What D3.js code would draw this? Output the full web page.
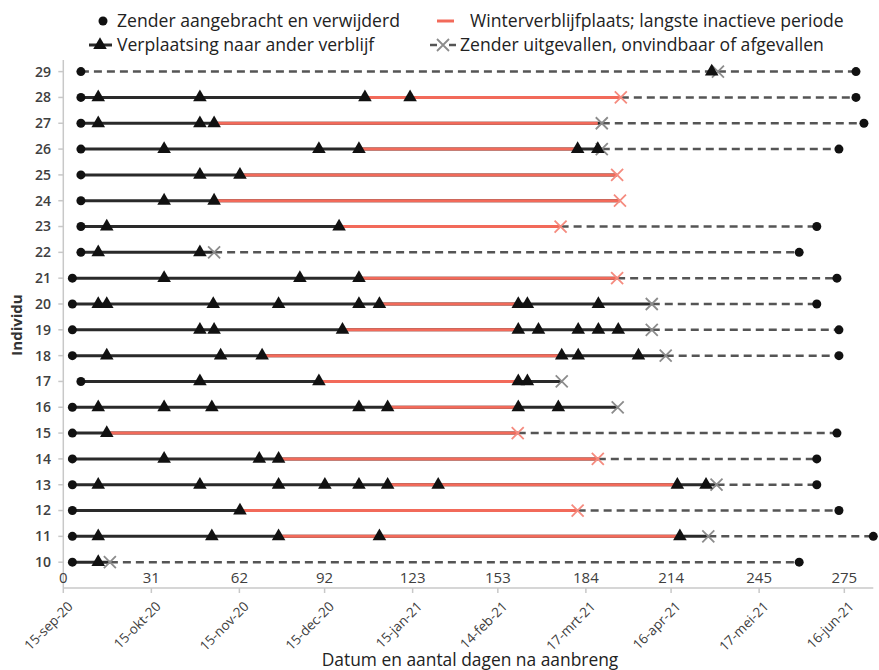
<!DOCTYPE html>
<html>
<head>
<meta charset="utf-8">
<script src="https://cdn.jsdelivr.net/npm/d3@7"></script>
<style>
  body { margin: 0; background: #fff; }
  text { font-family: "Open Sans", sans-serif; }
</style>
</head>
<body>
<div id="chart"></div>
<script>
const w = 879, h = 670;

// one entry per individual, top row (29) first
const individu = [29, 28, 27, 26, 25, 24, 23, 22, 21, 20, 19, 18, 17, 16, 15, 14, 13, 12, 11, 10];
const startDay = [6.2, 6.2, 6.2, 6.2, 6.2, 6.2, 6.2, 6.2, 3.2, 3.2, 3.2, 3.2, 6.2, 3.2, 3.2, 3.2, 3.2, 3.2, 3.2, 3.2];
const moveDays = [
  [228.3],
  [12.3, 48.1, 106.2, 122.1],
  [12.3, 48.1, 53.1],
  [35.5, 90, 104.1, 181.1, 188.2],
  [48.1, 62.2],
  [35.5, 53.1],
  [15.3, 97.1],
  [12.3, 48.1],
  [35.5, 83.3, 104.1],
  [12.3, 15.3, 52.8, 75.8, 104.1, 111.3, 160.2, 163.4, 188.4],
  [48.1, 53.1, 98.3, 160.2, 167.3, 181.3, 188.4, 195.4],
  [15.3, 55.4, 70, 175.5, 181.3, 202.5],
  [48.1, 90, 160.2, 163.4],
  [12.3, 35.5, 52.3, 104.1, 114.2, 160.2, 174.3],
  [15.3],
  [35.5, 69, 75.8],
  [12.3, 48.1, 75.8, 92.1, 104.1, 114.2, 132, 216.2, 226.3],
  [62.2],
  [12.3, 52.3, 75.8, 111.3, 217.1],
  [12.3]
];
const winterStart = [null, 106.2, 53.1, 104.1, 62.2, 53.1, 97.1, null, 104.1, 111.3, 98.3, 70, 90, 114.2, 15.3, 75.8, 114.2, 62.2, 75.8, null];
const winterEnd = [null, 196.3, 188.2, 181.1, 195, 196, 175.1, null, 195, 160.2, 160.2, 175.5, 160.2, 160.2, 160, 188.2, 216.2, 181.1, 217.1, null];
const trackEnd = [6.2, 196.3, 189.6, 189.6, 195, 196, 175.1, 53.1, 195, 207.2, 207.2, 212.1, 175.5, 195.2, 160, 188.2, 230, 181.1, 227.1, 16.4];
const lostDay = [230.5, 196.3, 189.6, 189.6, 195, 196, 175.1, 53.1, 195, 207.2, 207.2, 212.1, 175.5, 195.2, 160, 188.2, 230, 181.1, 227.1, 16.4];
const endDay = [279.1, 279.1, 281.9, 273.1, null, null, 265.3, 259.1, 272.4, 265.3, 273.1, 273.1, null, null, 272.4, 265.3, 265.3, 273.1, 285.2, 259.1];

const dayTicks = [0, 31, 62, 92, 123, 153, 184, 214, 245, 275];
const dateTicks = ["15-sep-20", "15-okt-20", "15-nov-20", "15-dec-20", "15-jan-21", "14-feb-21", "17-mrt-21", "16-apr-21", "17-mei-21", "16-jun-21"];

const colBlack = "#2a2a2a", colRed = "#f26a5a", colDash = "#555", colX = "#8c8c8c", colXred = "#f58b7f", colAxis = "#c8c8c8";

const rows = individu.map((id, i) => ({
  id, start: startDay[i], moves: moveDays[i],
  ws: winterStart[i], we: winterEnd[i], track: trackEnd[i],
  lost: lostDay[i], end: endDay[i]
}));

const x = d3.scaleLinear().domain([0, 285.2]).range([63.3, 873.3]);
const y = d3.scaleLinear().domain([9, 29.45]).range([588, 60]);

const svg = d3.select("#chart").append("svg").attr("width", w).attr("height", h);

// axes
svg.append("line").attr("x1", x(0)).attr("x2", x(0)).attr("y1", y(29.45)).attr("y2", y(9))
  .attr("stroke", colAxis).attr("stroke-width", 1.5);
svg.append("line").attr("x1", x(0)).attr("x2", x(285.2)).attr("y1", y(9)).attr("y2", y(9))
  .attr("stroke", colAxis).attr("stroke-width", 1.5);

const yTicks = svg.append("g").selectAll("g").data(individu).join("g")
  .attr("transform", d => `translate(0,${y(d)})`);
yTicks.append("line").attr("x1", x(0) - 5).attr("x2", x(0)).attr("stroke", colAxis).attr("stroke-width", 1.5);
yTicks.append("text").attr("x", 51).attr("dy", "0.35em").attr("text-anchor", "end")
  .attr("font-size", 14).attr("font-weight", 600).attr("fill", "#404040").text(d => d);

const xTicks = svg.append("g").selectAll("g").data(dayTicks).join("g")
  .attr("transform", d => `translate(${x(d)},${y(9)})`);
xTicks.append("line").attr("y1", 0).attr("y2", 5).attr("stroke", colAxis).attr("stroke-width", 1.5);
xTicks.append("text").attr("y", -5).attr("text-anchor", "middle")
  .attr("font-size", 15).attr("fill", "#404040").text(d => d);
xTicks.append("text").attr("transform", "translate(7,16) rotate(-45)")
  .attr("text-anchor", "end").attr("dy", "0.35em").attr("font-size", 13.5).attr("fill", "#404040")
  .text((d, i) => dateTicks[i]);

svg.append("text").attr("x", 470).attr("y", 666).attr("text-anchor", "middle")
  .attr("font-size", 17.4).attr("fill", "#222").text("Datum en aantal dagen na aanbreng");
svg.append("text").attr("transform", `translate(22,325) rotate(-90)`).attr("text-anchor", "middle")
  .attr("font-size", 15).attr("font-weight", 700).attr("fill", "#333").text("Individu");

// marks
const tri = d3.symbol(d3.symbolTriangle, 80);
const plot = svg.append("g");

const g = plot.selectAll("g.row").data(rows).join("g").attr("class", "row")
  .attr("transform", d => `translate(0,${y(d.id)})`);

g.filter(d => d.end != null).append("line")
  .attr("x1", d => x(d.track)).attr("x2", d => x(d.end))
  .attr("stroke", colDash).attr("stroke-width", 2.5).attr("stroke-dasharray", "8,5");

g.append("line").attr("x1", d => x(d.start)).attr("x2", d => x(d.track))
  .attr("stroke", colBlack).attr("stroke-width", 3);

g.filter(d => d.ws != null).append("line")
  .attr("x1", d => x(d.ws)).attr("x2", d => x(d.we))
  .attr("stroke", colRed).attr("stroke-width", 3);

const drawX = (sel, col) => {
  sel.append("path").attr("d", "M-6,-6L6,6M-6,6L6,-6").attr("stroke", col).attr("stroke-width", 1.8).attr("fill", "none");
};
g.each(function(d) {
  const xg = d3.select(this).append("g").attr("transform", `translate(${x(d.lost)},0)`);
  drawX(xg, d.we === d.lost ? colXred : colX);
});

g.append("circle").attr("cx", d => x(d.start)).attr("r", 4.5).attr("fill", "#111");
g.filter(d => d.end != null).append("circle").attr("cx", d => x(d.end)).attr("r", 4.5).attr("fill", "#111");

g.selectAll("path.tri").data(d => d.moves).join("path").attr("class", "tri")
  .attr("d", tri).attr("transform", v => `translate(${x(v)},0)`).attr("fill", "#111");

// legend
const lg = svg.append("g").attr("font-size", 17.6).attr("fill", "#222");
lg.append("circle").attr("cx", 103).attr("cy", 21).attr("r", 4.5).attr("fill", "#111");
lg.append("text").attr("x", 117).attr("y", 21).attr("dy", "0.35em").text("Zender aangebracht en verwijderd");
lg.append("line").attr("x1", 437).attr("x2", 454).attr("y1", 21).attr("y2", 21).attr("stroke", colRed).attr("stroke-width", 3);
lg.append("text").attr("x", 470).attr("y", 21).attr("dy", "0.35em").text("Winterverblijfplaats; langste inactieve periode");
lg.append("line").attr("x1", 89).attr("x2", 112).attr("y1", 45).attr("y2", 45).attr("stroke", colBlack).attr("stroke-width", 3);
lg.append("path").attr("d", tri).attr("transform", "translate(100,45)").attr("fill", "#111");
lg.append("text").attr("x", 117).attr("y", 45).attr("dy", "0.35em").text("Verplaatsing naar ander verblijf");
lg.append("line").attr("x1", 430).attr("x2", 437).attr("y1", 45).attr("y2", 45).attr("stroke", colDash).attr("stroke-width", 2.5);
lg.append("line").attr("x1", 449).attr("x2", 456).attr("y1", 45).attr("y2", 45).attr("stroke", colDash).attr("stroke-width", 2.5);
drawX(lg.append("g").attr("transform", "translate(443,45)"), colX);
lg.append("text").attr("x", 460).attr("y", 45).attr("dy", "0.35em").text("Zender uitgevallen, onvindbaar of afgevallen");
</script>
</body>
</html>
